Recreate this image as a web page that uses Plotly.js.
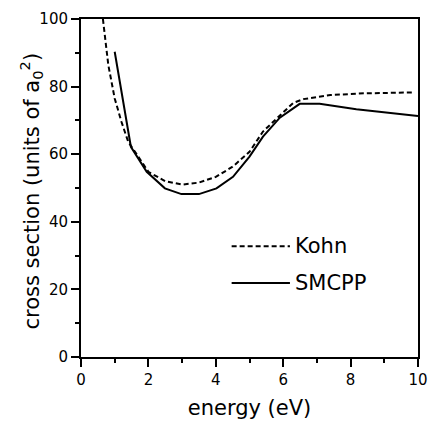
<!DOCTYPE html>
<html>
<head>
<meta charset="utf-8">
<script src="https://cdn.plot.ly/plotly-3.0.1.min.js"></script>
<style>html,body{margin:0;padding:0;background:#fff;}#chart{width:429px;height:424px;}</style>
</head>
<body>
<div id="chart"></div>
<script>
// Data
const energyKohn = [0.65, 0.81, 1.0, 1.2, 1.4, 1.55, 2.0, 2.5, 3.0, 3.5, 4.0, 4.5, 5.0, 5.4, 5.9, 6.3, 6.6, 7.4, 8.4, 9.0, 9.9];
const kohn       = [100, 86.4, 76.5, 69.6, 63.7, 61.5, 54.8, 52.0, 51.0, 51.6, 53.3, 56.3, 60.7, 66.7, 71.5, 75.2, 76.3, 77.5, 78.0, 78.2, 78.3];
const energySMCPP = [1.0, 1.48, 1.95, 2.49, 2.98, 3.5, 4.02, 4.51, 5.0, 5.4, 5.9, 6.49, 7.08, 8.17, 10.0];
const smcpp       = [90.3, 62.2, 54.8, 49.9, 48.2, 48.2, 49.9, 53.3, 59.3, 65.2, 70.8, 74.9, 74.9, 73.3, 71.3];
const seriesNames = ["Kohn", "SMCPP"];
const xTitle = "energy (eV)";
const yTitle = "cross section (units of a<sub>0</sub><sup>2</sup>)";

const FONT = "DejaVu Sans, Arial, sans-serif";

const traces = [
  {x: energyKohn, y: kohn, mode: "lines", name: seriesNames[0],
   line: {color: "#000", width: 2, dash: "5px,3px"}, showlegend: false},
  {x: energySMCPP, y: smcpp, mode: "lines", name: seriesNames[1],
   line: {color: "#000", width: 2}, showlegend: false}
];

const axisCommon = {
  showline: true, linewidth: 2, linecolor: "#000", mirror: true,
  ticks: "outside", ticklen: 8, tickwidth: 2, tickcolor: "#000",
  showgrid: false, zeroline: false, tickmode: "linear", tick0: 0,
  tickfont: {family: FONT, size: 15, color: "#000"}
};

const layout = {
  width: 429, height: 424,
  margin: {l: 81, r: 11, t: 19, b: 67},
  paper_bgcolor: "#fff", plot_bgcolor: "#fff",
  font: {family: FONT, color: "#000"},
  xaxis: Object.assign({}, axisCommon, {
    range: [0, 10], dtick: 2,
    minor: {ticks: "outside", ticklen: 4, tickwidth: 2, tickcolor: "#000", dtick: 1},
    title: {text: xTitle, font: {family: FONT, size: 21, color: "#000"}, standoff: 12}
  }),
  yaxis: Object.assign({}, axisCommon, {range: [0, 100], dtick: 20,
    minor: {ticks: "outside", ticklen: 4, tickwidth: 2, tickcolor: "#000", dtick: 10}}),
  shapes: [
    {type: "line", xref: "paper", yref: "paper", x0: 0.447, x1: 0.62, y0: 0.328, y1: 0.328,
     line: {color: "#000", width: 2, dash: "5px,3px"}},
    {type: "line", xref: "paper", yref: "paper", x0: 0.447, x1: 0.62, y0: 0.219, y1: 0.219,
     line: {color: "#000", width: 2}}
  ],
  annotations: [
    {xref: "paper", yref: "paper", x: 0.63, y: 0.328, xanchor: "left", yanchor: "middle",
     text: seriesNames[0], showarrow: false, font: {family: FONT, size: 21, color: "#000"}},
    {xref: "paper", yref: "paper", x: 0.63, y: 0.219, xanchor: "left", yanchor: "middle",
     text: seriesNames[1], showarrow: false, font: {family: FONT, size: 21, color: "#000"}},
    {xref: "paper", yref: "paper", x: -0.148, y: 0.49, xanchor: "center", yanchor: "middle",
     textangle: -90, text: yTitle, showarrow: false, font: {family: FONT, size: 21, color: "#000"}}
  ]
};

Plotly.newPlot("chart", traces, layout, {staticPlot: true, displayModeBar: false});
</script>
</body>
</html>
